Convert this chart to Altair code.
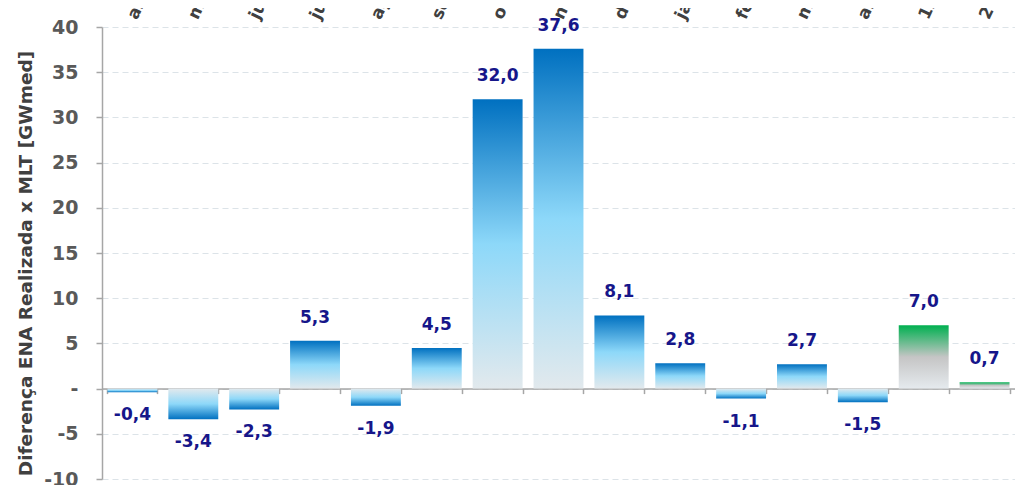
import altair as alt
import pandas as pd

categories = ["abr-24", "mai-24", "jun-24", "jul-24", "ago-24", "set-24", "out-24",
              "nov-24", "dez-24", "jan-25", "fev-25", "mar-25", "abr-25",
              "12 a 18/mai", "2ª sem/mai"]
values = [-0.4, -3.4, -2.3, 5.3, -1.9, 4.5, 32.0, 37.6, 8.1, 2.8, -1.1, 2.7, -1.5, 7.0, 0.7]
kinds = ["blue"] * 13 + ["green"] * 2

df = pd.DataFrame({"cat": categories, "v": values, "kind": kinds})
df["label"] = [f"{v:.1f}".replace(".", ",") for v in values]

Y_MIN, Y_MAX = -10, 40
H = 452
W = 913
FONT = "DejaVu Sans"

yscale = alt.Scale(domain=[Y_MIN, Y_MAX], nice=False, zero=False)
xscale = alt.Scale(paddingInner=0.18, domain=categories)

def grad(stops, flip=False):
    return alt.Gradient(
        gradient="linear",
        stops=[alt.GradientStop(offset=o, color=c) for o, c in stops],
        x1=0, x2=0, y1=1 if flip else 0, y2=0 if flip else 1,
    )

blue_stops = [(0, "#0070C0"), (0.5, "#8DD8F9"), (1, "#E2E9ED")]
green_stops = [(0, "#00B050"), (0.5, "#C5C5C5"), (1, "#E5EAEE")]

x_top = alt.X("cat:N", sort=categories, scale=xscale, title=None,
              axis=alt.Axis(orient="top", labelAngle=-65, labelAlign="left",
                            labelBaseline="middle", ticks=False, domain=False,
                            labelPadding=9, grid=False, labelFont=FONT,
                            labelFontWeight="bold", labelFontSize=17,
                            labelColor="#404040"))
x_zero = alt.X("cat:N", sort=categories, scale=xscale, title=None,
               axis=alt.Axis(orient="bottom", offset=-(0 - Y_MIN) / (Y_MAX - Y_MIN) * H,
                             labels=False, ticks=True, tickSize=5, tickColor="#A6A6A6",
                             tickWidth=1.5, domainColor="#A6A6A6", domainWidth=1.5,
                             tickBand="extent", grid=False))
x_none = alt.X("cat:N", sort=categories, scale=xscale, axis=None)

y_axis_def = alt.Axis(values=list(range(Y_MIN, Y_MAX + 1, 5)),
                      labelExpr="datum.value == 0 ? '-' : (datum.value < 0 ? '-' + abs(datum.value) : '' + datum.value)",
                      orient="left",
                      domainColor="#A6A6A6", domainWidth=1.5,
                      tickColor="#A6A6A6", tickWidth=1.5, tickSize=6,
                      grid=True,
                      gridColor="#DCE3E8", gridDash=[6, 4], gridWidth=1.2,
                      labelPadding=18, labelFont=FONT, labelFontWeight="bold",
                      labelFontSize=19, labelColor="#595959",
                      titleFont=FONT, titleFontWeight="bold", titleFontSize=18.5,
                      titleColor="#404040", titlePadding=8, titleY=H / 2 + 10)
y_enc = alt.Y("v:Q", scale=yscale, title="Diferença ENA Realizada x MLT [GWmed]",
              axis=y_axis_def)

base = alt.Chart(df)

pos_blue = base.transform_filter("datum.kind == 'blue' && datum.v >= 0").mark_bar(
    color=grad(blue_stops)).encode(x=x_top, y=y_enc, y2=alt.datum(0))
neg_blue = base.transform_filter("datum.kind == 'blue' && datum.v < 0").mark_bar(
    color=grad(blue_stops, flip=True)).encode(x=x_zero, y=y_enc, y2=alt.datum(0))
green = base.transform_filter("datum.kind == 'green'").mark_bar(
    color=grad(green_stops)).encode(x=x_none, y=y_enc, y2=alt.datum(0))

txt_kw = dict(font=FONT, fontWeight="bold", fontSize=17, color="#16168A",
              baseline="middle", align="center")
pos_txt = base.transform_filter("datum.v >= 0").mark_text(dy=-23, **txt_kw).encode(
    x=x_none, y=y_enc, text="label:N")
neg_txt = base.transform_filter("datum.v < 0").mark_text(dy=23, **txt_kw).encode(
    x=x_none, y=y_enc, text="label:N")

chart = alt.layer(pos_blue, neg_blue, green, pos_txt, neg_txt).resolve_axis(
    x="independent", y="shared").properties(
    width=W, height=H,
    autosize=alt.AutoSizeParams(type="none"),
    padding={"left": 94, "top": 19, "right": 0, "bottom": 6},
).configure_view(stroke=None)

chart.save("out.html", embed_options={"renderer": "svg", "actions": False})
